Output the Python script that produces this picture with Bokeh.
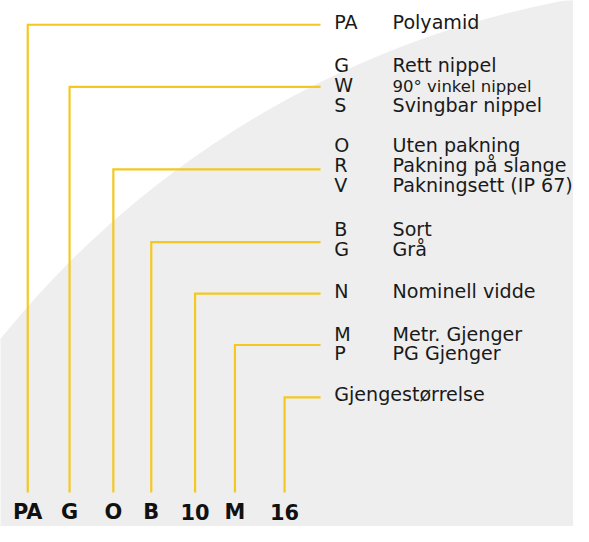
from bokeh.plotting import figure
from bokeh.models import Range1d, ColumnDataSource
from bokeh.core.properties import value
from bokeh.embed import file_html
from bokeh.resources import INLINE

# ---- data (reference pixel space: 589 x 542, y grows downward) ----
bottom_codes = ["PA", "G", "O", "B", "10", "M", "16"]
column_x = [28, 71, 116, 155, 200, 241, 292]        # vertical leader positions
level_y = [25, 89, 174, 249, 302, 355, 409]         # horizontal leader heights
leader_end_x = 329
leader_bottom_y = 507
code_baseline_y = 535

legend_codes = ["PA", "G", "W", "S", "O", "R", "V", "B", "G", "N", "M", "P", ""]
legend_texts = ["Polyamid", "Rett nippel", "90° vinkel nippel", "Svingbar nippel",
                "Uten pakning", "Pakning på slange", "Pakningsett (IP 67)",
                "Sort", "Grå", "Nominell vidde", "Metr. Gjenger", "PG Gjenger",
                "Gjengestørrelse"]
legend_baselines = [30, 74, 95, 115, 157, 177, 198, 243, 264, 307, 351, 371, 413]
legend_small = [False, False, True, False, False, False, False, False, False,
                False, False, False, False]
code_col_x = 343
text_col_x = 403

# background arc (large light-grey disc)
disc_center = (761, 961)
disc_radius = 976

YELLOW = "#f4c81f"
GREY = "#eeeeee"
INK = "#1a1a1a"
FONT = "DejaVu Sans"
CAP = 0.729          # cap height of DejaVu Sans, in em
S = 573 / 589.0      # reference px -> figure px

BIG = 19.6
SMALL = 17.0
BOLD = 21.5

p = figure(width=573, height=526, output_backend="svg", toolbar_location=None,
           x_range=Range1d(0, 589), y_range=Range1d(542, 0),
           min_border=0, min_border_left=0, min_border_right=0,
           min_border_top=0, min_border_bottom=0)
p.axis.visible = False
p.grid.visible = False
p.outline_line_color = None
p.background_fill_color = "white"
p.border_fill_color = "white"

p.circle(x=[disc_center[0]], y=[disc_center[1]], radius=disc_radius,
         fill_color=GREY, line_color=None)

xs = [[cx, cx, leader_end_x] for cx in column_x]
ys = [[leader_bottom_y, ly, ly] for ly in level_y]
p.multi_line(xs=xs, ys=ys, line_color=YELLOW, line_width=2.2,
             line_join="miter", line_cap="butt")


def mid(baseline, size):
    # text is rendered centred on its cap height
    return baseline - CAP * size / 2.0


# bottom code
p.text(x=column_x, y=[mid(code_baseline_y, BOLD)] * len(bottom_codes),
       text=bottom_codes, text_align="center", text_baseline="middle",
       text_font=value(FONT), text_font_style="bold",
       text_font_size="%.1fpx" % (BOLD * S), text_color="#111111")

# legend: codes
src_codes = ColumnDataSource(dict(x=[code_col_x] * len(legend_codes),
                                  y=[mid(b, BIG) for b in legend_baselines],
                                  t=legend_codes))
p.text(x="x", y="y", text="t", source=src_codes, text_align="left",
       text_baseline="middle", text_font=value(FONT),
       text_font_size="%.1fpx" % (BIG * S), text_color=INK)

# legend: descriptions (normal and small)
big_i = [i for i, s in enumerate(legend_small) if not s]
small_i = [i for i, s in enumerate(legend_small) if s]
desc_x = [text_col_x if legend_codes[i] else code_col_x for i in big_i]
p.text(x=desc_x, y=[mid(legend_baselines[i], BIG) for i in big_i],
       text=[legend_texts[i] for i in big_i], text_align="left",
       text_baseline="middle", text_font=value(FONT),
       text_font_size="%.1fpx" % (BIG * S), text_color=INK)
p.text(x=[text_col_x] * len(small_i),
       y=[mid(legend_baselines[i], SMALL) for i in small_i],
       text=[legend_texts[i] for i in small_i], text_align="left",
       text_baseline="middle", text_font=value(FONT),
       text_font_size="%.1fpx" % (SMALL * S), text_color=INK)

open("out.html", "w").write(file_html(p, INLINE))
